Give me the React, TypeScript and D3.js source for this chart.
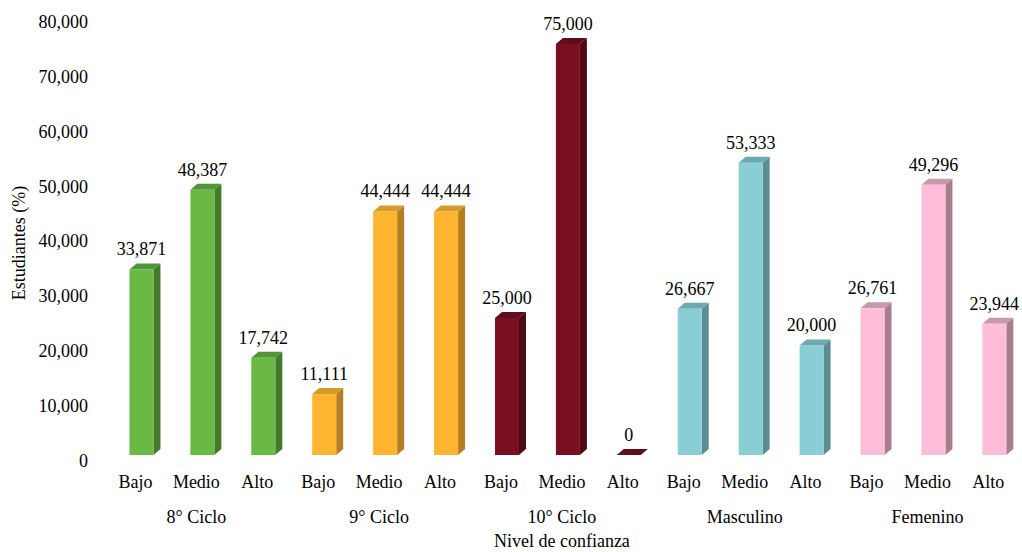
import React from "react";
import * as d3 from "d3";

// Confidence levels per group
const levels = ["Bajo", "Medio", "Alto"];
const groups = ["8° Ciclo", "9° Ciclo", "10° Ciclo", "Masculino", "Femenino"];
const ciclo8 = [33871, 48387, 17742];
const ciclo9 = [11111, 44444, 44444];
const ciclo10 = [25000, 75000, 0];
const masculino = [26667, 53333, 20000];
const femenino = [26761, 49296, 23944];
const yTicks = [0, 10000, 20000, 30000, 40000, 50000, 60000, 70000, 80000];

const groupValues = [ciclo8, ciclo9, ciclo10, masculino, femenino];

// front / side / top shades per group
const palette = [
  { front: "#69b944", side: "#437b2b", top: "#52953a" },
  { front: "#fdb430", side: "#b47f20", top: "#d69a2a" },
  { front: "#7a0f22", side: "#4d0915", top: "#600c1b" },
  { front: "#89cdd5", side: "#5a8c92", top: "#6ea9b0" },
  { front: "#ffbdd9", side: "#a77c8e", top: "#c899ad" },
];

const W = 1022;
const H = 552;
const FONT = "'Liberation Serif', 'Times New Roman', serif";

export default function App() {
  const rows = groupValues.flatMap((vals, g) =>
    vals.map((v, l) => ({ group: g, level: levels[l], value: v }))
  );
  const x = d3
    .scaleBand<number>()
    .domain(d3.range(rows.length))
    .range([105, 105 + 60.92 * rows.length])
    .padding(0);
  const y = d3.scaleLinear().domain([0, 80000]).range([455, 16.6]);
  const fmt = d3.format(",");

  const frontW = 24;
  const dx = 7;
  const dy = 6;

  return (
    <svg
      width={W}
      height={H}
      style={{ position: "absolute", left: 0, top: 0, background: "#fff" }}
      fontFamily={FONT}
      fontSize={18}
    >
      {/* y axis labels */}
      {yTicks.map((t) => (
        <text key={t} x={88} y={y(t) + 11.5} textAnchor="end" fill="#000">
          {fmt(t)}
        </text>
      ))}
      <text
        transform={`translate(25,243) rotate(-90)`}
        textAnchor="middle"
        fill="#000"
      >
        Estudiantes (%)
      </text>

      {/* 3D bars */}
      {rows.map((r, i) => {
        const c = palette[r.group];
        const cx = x(i)! + x.bandwidth() / 2 + 6;
        const x0 = cx - frontW / 2;
        const x1 = cx + frontW / 2;
        const yt = y(r.value);
        const yb = y(0);
        return (
          <g key={i}>
            {r.value > 0 && (
              <polygon
                points={`${x1},${yt} ${x1 + dx},${yt - dy} ${x1 + dx},${yb - dy} ${x1},${yb}`}
                fill={c.side}
              />
            )}
            <polygon
              points={`${x0},${yt} ${x1},${yt} ${x1 + dx},${yt - dy} ${x0 + dx},${yt - dy}`}
              fill={c.top}
            />
            {r.value > 0 && (
              <rect x={x0} y={yt} width={frontW} height={yb - yt} fill={c.front} />
            )}
            <text x={cx} y={yt - 14} textAnchor="middle" fill="#000">
              {fmt(r.value)}
            </text>
          </g>
        );
      })}

      {/* category labels */}
      {rows.map((r, i) => (
        <text
          key={`l${i}`}
          x={x(i)! + x.bandwidth() / 2}
          y={488}
          textAnchor="middle"
          fill="#000"
        >
          {r.level}
        </text>
      ))}
      {groups.map((g, gi) => (
        <text
          key={g}
          x={x(gi * 3 + 1)! + x.bandwidth() / 2}
          y={523}
          textAnchor="middle"
          fill="#000"
        >
          {g}
        </text>
      ))}
      <text
        x={x(7)! + x.bandwidth() / 2}
        y={547}
        textAnchor="middle"
        fill="#000"
      >
        Nivel de confianza
      </text>
    </svg>
  );
}
